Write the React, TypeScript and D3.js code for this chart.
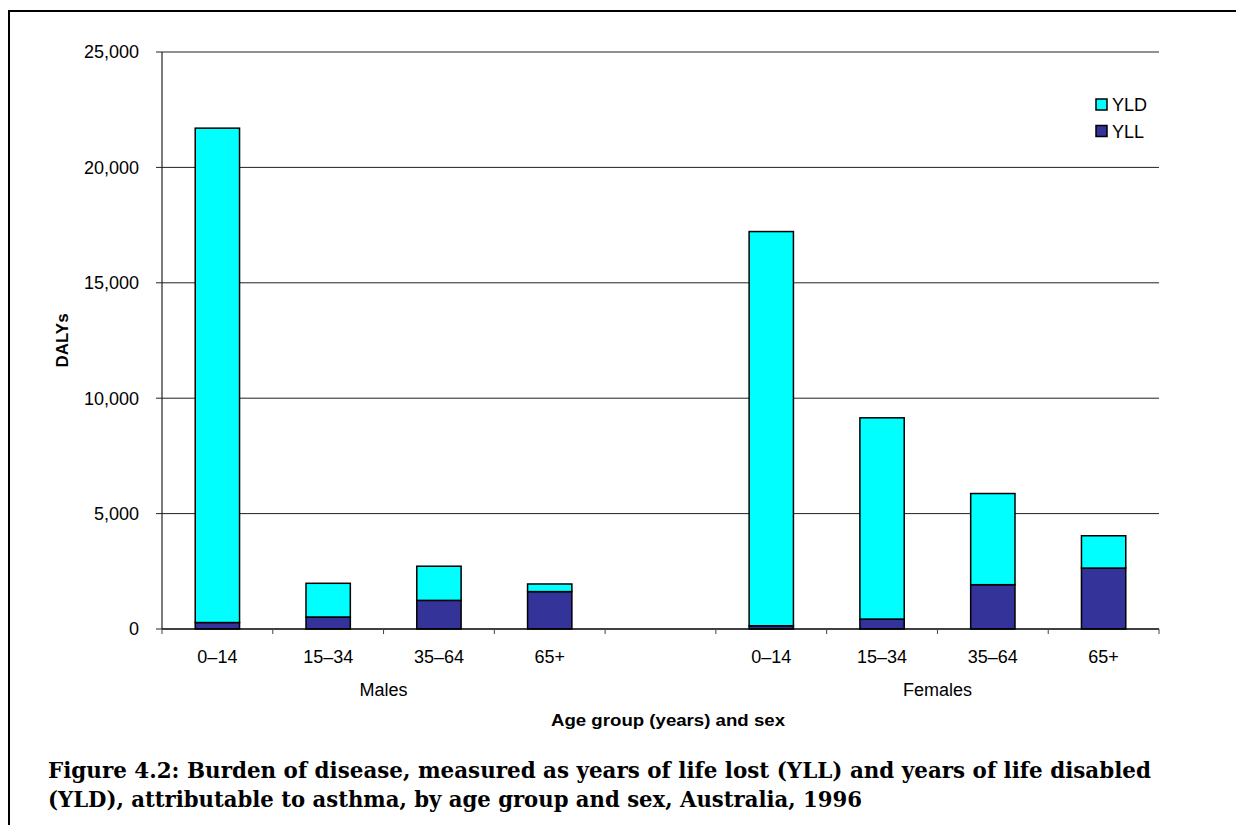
import React from "react";
import * as d3 from "d3";

const groups = ["Males", "Females"];
const ageGroups = ["0–14", "15–34", "35–64", "65+"];
// category slots: Males 4, gap, Females 4
const categories = ["M 0–14", "M 15–34", "M 35–64", "M 65+", "gap", "F 0–14", "F 15–34", "F 35–64", "F 65+"];
const yllValues = [280, 520, 1240, 1620, 0, 140, 430, 1920, 2640];
const yldValues = [21420, 1460, 1480, 330, 0, 17080, 8720, 3950, 1400];
const yTicks = [0, 5000, 10000, 15000, 20000, 25000];
const seriesNames = ["YLD", "YLL"];
const colors: Record<string, string> = { YLD: "#00FFFF", YLL: "#333399" };
const captionLines = [
  "Figure 4.2: Burden of disease, measured as years of life lost (YLL) and years of life disabled",
  "(YLD), attributable to asthma, by age group and sex, Australia, 1996",
];
const captionWidths = [1103, 814];

export default function App() {
  const W = 1236, H = 825;
  const left = 162, right = 1159, top = 52, bottom = 629;
  const x = d3.scaleBand<string>().domain(categories).range([left, right]).paddingInner(0).paddingOuter(0);
  const y = d3.scaleLinear().domain([0, 25000]).range([bottom, top]);
  const fmt = d3.format(",");
  const bw = x.bandwidth() * 0.4;
  const font = "Arial, 'Liberation Sans', Helvetica, sans-serif";
  const boundaries = categories.map((c) => x(c)!).concat([right]);

  const stacked = categories.map((c, i) => ({
    c,
    yll: yllValues[i],
    yld: yldValues[i],
  }));

  return (
    <svg width={W} height={H} style={{ position: "absolute", left: 0, top: 0, background: "#fff" }}>
      <rect x={9} y={11} width={W + 20} height={H + 20} fill="none" stroke="#000" strokeWidth={2} />
      {/* gridlines */}
      {yTicks.map((t) => (
        <g key={t}>
          <line x1={left - 6} x2={t === 0 ? left : right} y1={y(t)} y2={y(t)} stroke="#222" strokeWidth={1} />
          <text x={139} y={y(t)} dy="0.35em" textAnchor="end" fontFamily={font} fontSize={18} fill="#000">
            {fmt(t)}
          </text>
        </g>
      ))}
      <line x1={left} x2={left} y1={top} y2={bottom} stroke="#222" strokeWidth={1.2} />
      {/* bars */}
      {stacked.filter((d) => d.c !== "gap").map((d) => {
        const bx = x(d.c)! + (x.bandwidth() - bw) / 2;
        return (
          <g key={d.c}>
            <rect x={bx} y={y(d.yll)} width={bw} height={y(0) - y(d.yll)} fill={colors.YLL} stroke="#000" strokeWidth={1.5} />
            <rect x={bx} y={y(d.yll + d.yld)} width={bw} height={y(d.yll) - y(d.yll + d.yld)} fill={colors.YLD} stroke="#000" strokeWidth={1.5} />
          </g>
        );
      })}
      {/* x axis */}
      <line x1={left} x2={right} y1={bottom} y2={bottom} stroke="#000" strokeWidth={1.5} />
      {boundaries.map((b, i) => (
        <line key={i} x1={b} x2={b} y1={bottom} y2={bottom + 5} stroke="#444" strokeWidth={1} />
      ))}
      {categories.map((c, i) =>
        c === "gap" ? null : (
          <text key={c} x={x(c)! + x.bandwidth() / 2} y={657} dy="0.35em" textAnchor="middle" fontFamily={font} fontSize={18}>
            {ageGroups[i < 4 ? i : i - 5]}
          </text>
        )
      )}
      {groups.map((g, gi) => {
        const start = gi === 0 ? 0 : 5;
        const cx = (x(categories[start])! + x(categories[start + 3])! + x.bandwidth()) / 2;
        return (
          <text key={g} x={cx} y={690} dy="0.35em" textAnchor="middle" fontFamily={font} fontSize={18}>
            {g}
          </text>
        );
      })}
      <text x={668} y={720} dy="0.35em" textAnchor="middle" fontFamily={font} fontSize={16} fontWeight="bold" textLength={234} lengthAdjust="spacingAndGlyphs">
        Age group (years) and sex
      </text>
      <text transform={`translate(62, ${(top + bottom) / 2}) rotate(-90)`} dy="0.35em" textAnchor="middle" fontFamily={font} fontSize={17} fontWeight="bold">
        DALYs
      </text>
      {/* legend */}
      {seriesNames.map((s, i) => (
        <g key={s} transform={`translate(1096, ${99 + i * 26.5})`}>
          <rect x={0} y={0} width={11} height={11} fill={colors[s]} stroke="#000" strokeWidth={1.5} />
          <text x={16} y={6} dy="0.35em" fontFamily={font} fontSize={18}>
            {s}
          </text>
        </g>
      ))}
      {/* caption */}
      {captionLines.map((l, i) => (
        <text key={i} x={48} y={778 + i * 29} fontFamily="'DejaVu Serif', 'Liberation Serif', serif" fontWeight="bold" fontSize={22} textLength={captionWidths[i]} lengthAdjust="spacingAndGlyphs">
          {l}
        </text>
      ))}
    </svg>
  );
}
